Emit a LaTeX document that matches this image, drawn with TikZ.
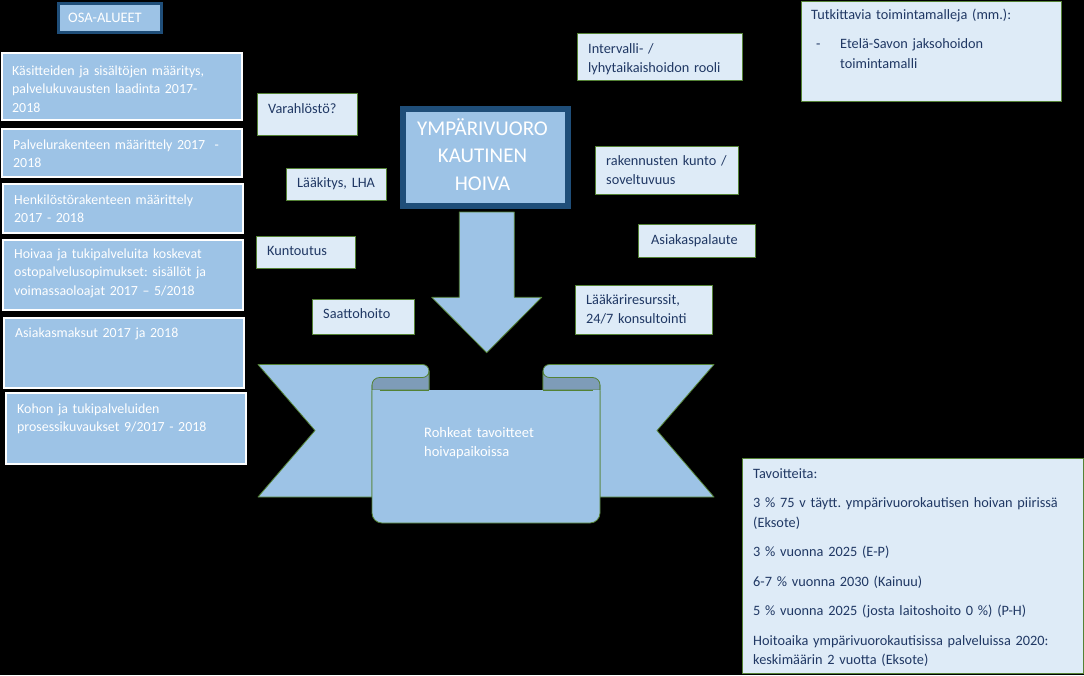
\documentclass[tikz,border=0pt]{standalone}
\usepackage{fontspec}
\setmainfont{Carlito}
\frenchspacing
\definecolor{lb}{HTML}{9DC3E6}
\definecolor{pale}{HTML}{DEEBF7}
\definecolor{grn}{HTML}{548235}
\definecolor{navy}{HTML}{203864}
\definecolor{dkb}{HTML}{1F4E79}
\definecolor{rollc}{HTML}{7E9CB8}
\newcommand{\bx}[6]{\node[#1, anchor=north west, minimum width=#4pt, minimum height=#5pt, inner sep=0pt] (#6) at (#2,#3) {};}
\tikzset{
  lbox/.style={draw=white, line width=2pt, fill=lb},
  pbox/.style={draw=grn, line width=1pt, fill=pale},
  dbox/.style={draw=dkb, fill=lb},
  wtxt/.style={anchor=base west, inner sep=0pt, text=white, font=\fontsize{13.9}{18.5}\selectfont, text width=240pt, align=left},
  ntxt/.style={anchor=base west, inner sep=0pt, text=navy, font=\fontsize{14.3}{19.5}\selectfont, text width=330pt, align=left},
  rib/.style={fill=lb, draw=grn, line width=0.8pt, line join=round},
}
\begin{document}
\begin{tikzpicture}[x=1pt, y=-1pt]
\fill[black] (0,0) rectangle (1084,675);
\useasboundingbox (0,0) rectangle (1084,675);

% OSA-ALUEET
\bx{dbox, line width=3pt}{56.5}{2}{103}{29}{osa}
\node[anchor=base, inner sep=0pt, text=white, font=\fontsize{14.5}{16}\selectfont] (osat) at (105,22) {OSA-ALUEET};

% left boxes
\bx{lbox}{1}{52}{240}{67}{b1}
\bx{lbox}{1}{128}{240}{48}{b2}
\bx{lbox}{2}{183}{240}{49}{b3}
\bx{lbox}{2}{239}{240}{70}{b4}
\bx{lbox}{3}{317}{240}{70}{b5}
\bx{lbox}{5}{392}{240}{71}{b6}
\node[wtxt] (t1) at (12,75) {Käsitteiden ja sisältöjen määritys,\\palvelukuvausten laadinta 2017-\\2018};
\node[wtxt] (t2) at (13,149) {Palvelurakenteen määrittely 2017~ -\\2018};
\node[wtxt] (t3) at (14,204) {Henkilöstörakenteen määrittely\\2017 - 2018};
\node[wtxt] (t4) at (14,258) {Hoivaa ja tukipalveluita koskevat\\ostopalvelusopimukset: sisällöt ja\\voimassaoloajat 2017 – 5/2018};
\node[wtxt] (t5) at (15,337) {Asiakasmaksut 2017 ja 2018};
\node[wtxt] (t6) at (17,413) {Kohon ja tukipalveluiden\\prosessikuvaukset 9/2017 - 2018};

% central box
\bx{dbox, line width=6pt}{400}{106}{165}{97}{ymp}
\node[anchor=base, inner sep=0pt, text=white, font=\fontsize{21}{27.5}\selectfont, text width=170pt, align=center] (ympt) at (482.5,135) {YMPÄRIVUORO\\KAUTINEN\\HOIVA};

% small boxes
\bx{pbox}{257}{93}{100}{42}{varah}
\node[ntxt] (varaht) at (268,113) {Varahlöstö?};
\bx{pbox}{286}{168}{100}{32}{laak}
\node[ntxt] (laakt) at (297,187) {Lääkitys, LHA};
\bx{pbox}{256}{236}{99}{32}{kunt}
\node[ntxt] (kuntt) at (267,255) {Kuntoutus};
\bx{pbox}{312}{299}{102}{35}{saat}
\node[ntxt] (saatt) at (323,318) {Saattohoito};
\bx{pbox}{595}{146}{143}{48}{rak}
\node[ntxt] (rakt) at (606,165) {rakennusten kunto /\\soveltuvuus};
\bx{pbox}{638}{224}{117}{33}{asiak}
\node[ntxt] (asiakt) at (651,244) {Asiakaspalaute};
\bx{pbox}{575}{285}{137}{49}{laakari}
\node[ntxt] (laakarit) at (586,304) {Lääkäriresurssit,\\24/7 konsultointi};
\bx{pbox}{577}{33}{165}{47}{interv}
\node[ntxt] (intervt) at (588,53) {Intervalli- /\\lyhytaikaishoidon rooli};
\bx{pbox}{801}{1}{260}{100}{tutk}
\node[ntxt] (tutkt) at (811,19.5) {Tutkittavia toimintamalleja (mm.):};
\node[ntxt, text width=10pt] (tutkd) at (816,48.5) {-};
\node[ntxt] (tutki) at (840,48.5) {Etelä-Savon jaksohoidon\\toimintamalli};
\bx{pbox}{742}{458}{341}{215}{tavo}
\node[ntxt] (tavot) at (753,478) {Tavoitteita:\\[10pt]3 \% 75 v täytt. ympärivuorokautisen hoivan piirissä\\(Eksote)\\[10pt]3 \% vuonna 2025 (E-P)\\[10pt]6-7 \% vuonna 2030 (Kainuu)\\[10pt]5 \% vuonna 2025 (josta laitoshoito 0 \%) (P-H)\\[10pt]Hoitoaika ympärivuorokautisissa palveluissa 2020:\\keskimäärin 2 vuotta (Eksote)};

% arrow
\draw[rib] (459.3,212) -- (514.3,212) -- (514.3,297.3) -- (541.7,297.3) -- (486.7,352.7) -- (431.7,297.3) -- (459.3,297.3) -- cycle;

% ribbon tails
\draw[rib] (258,364.5) -- (422.5,364.5) arc[start angle=-90, end angle=0, radius=6.5] -- (429,391) -- (372,391) -- (372,497) -- (258,497) -- (315,430.5) -- cycle;
\draw[rib] (714,364.5) -- (549.5,364.5) arc[start angle=-90, end angle=-180, radius=6.5] -- (543,391) -- (600,391) -- (600,497) -- (714,497) -- (657,430.5) -- cycle;
% rolled backs
\draw[rib, fill=rollc] (372,390) -- (372,385) arc[start angle=180, end angle=270, radius=7.5] -- (422.5,377.5) arc[start angle=90, end angle=0, radius=6.5] -- (429,390) -- cycle;
\draw[rib, fill=rollc] (600,390) -- (600,385) arc[start angle=0, end angle=-90, radius=7.5] -- (549.5,377.5) arc[start angle=90, end angle=180, radius=6.5] -- (543,390) -- cycle;
% front panel
\fill[lb] (372,390) -- (372,513) arc[start angle=180, end angle=90, radius=10] -- (590,523) arc[start angle=90, end angle=0, radius=10] -- (600,390) -- cycle;
\draw[grn, line width=0.8pt] (372,385) -- (372,513) arc[start angle=180, end angle=90, radius=10] -- (590,523) arc[start angle=90, end angle=0, radius=10] -- (600,385);
\draw[grn, line width=0.8pt] (379.5,390) -- (429,390);
\draw[grn, line width=0.8pt] (543,390) -- (592.5,390);
\node[wtxt, text width=150pt, font=\fontsize{14.5}{19}\selectfont] (ribt) at (424,437) {Rohkeat tavoitteet\\hoivapaikoissa};
\end{tikzpicture}
\end{document}
